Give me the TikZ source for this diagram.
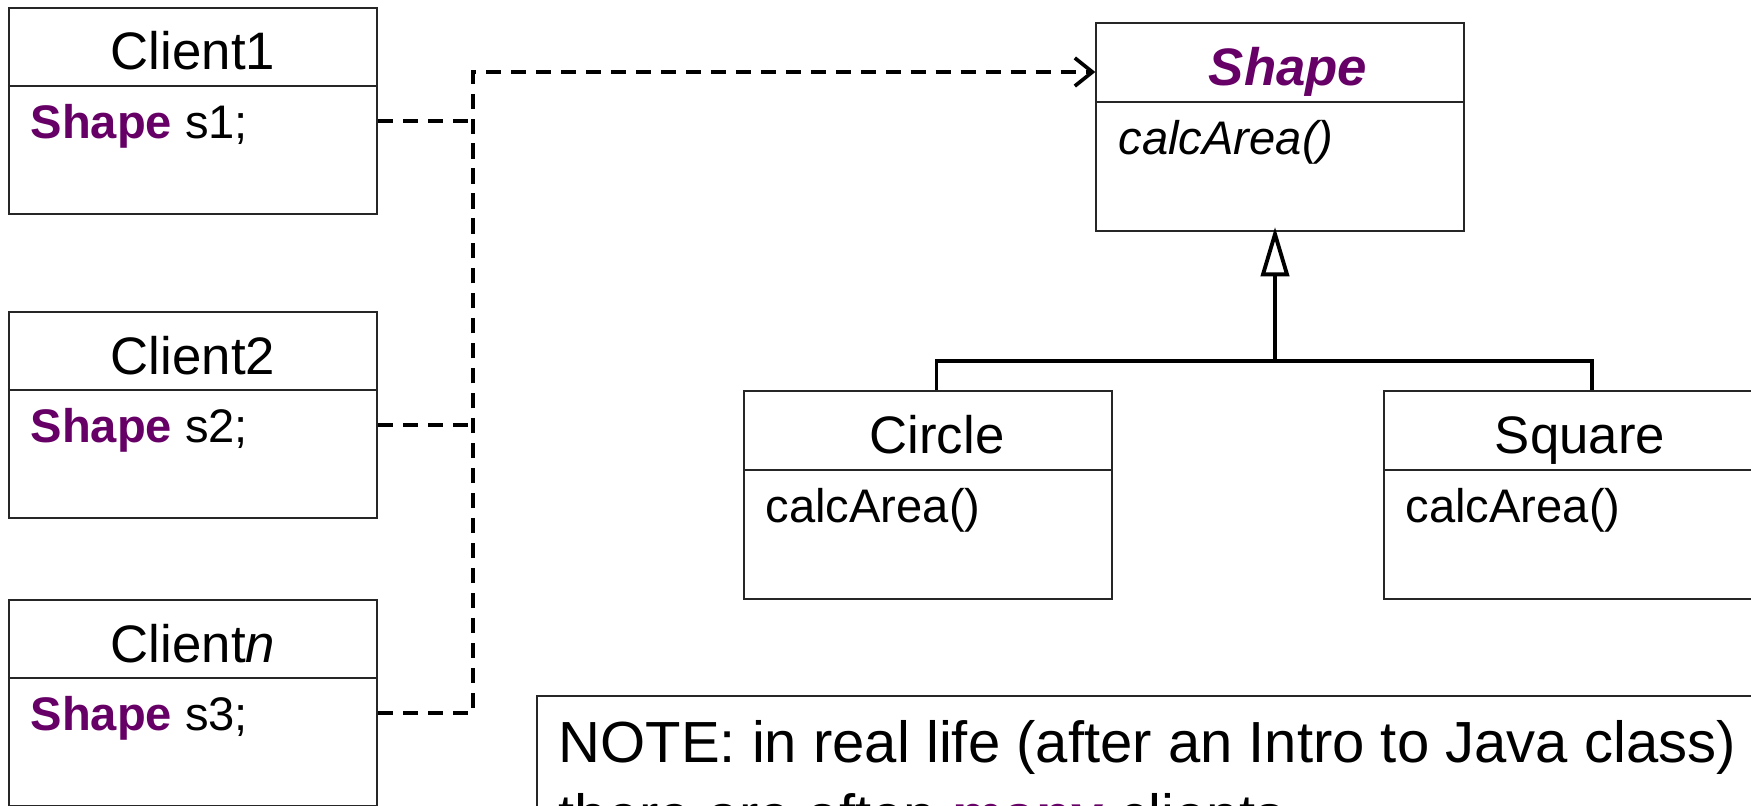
\documentclass[tikz,border=0pt]{standalone}
\usepackage{fontspec}
\setmainfont{Liberation Sans}
\usetikzlibrary{arrows.meta}
\usetikzlibrary{calc}

\definecolor{shapepurple}{RGB}{102,0,102}

\tikzset{
  classbox/.style={draw=black!85, line width=0.6pt, inner sep=0pt},
  ctitle/.style={font=\fontsize{15}{18}\selectfont, inner sep=0pt, anchor=base},
  cattr/.style={font=\fontsize{13.4}{16}\selectfont, inner sep=0pt, anchor=base west, text depth=0pt},
  notetext/.style={font=\fontsize{16.5}{20}\selectfont, inner sep=0pt, anchor=base west},
  dep/.style={line width=1.05pt, dash pattern=on 4.3pt off 2.8pt},
  gen/.style={line width=1.1pt},
}

\begin{document}
\begin{tikzpicture}[x=0.01cm, y=-0.01cm]
\useasboundingbox (0,0) rectangle (1751,806);

% the clients
\node[classbox, minimum width=3.68cm, minimum height=2.06cm] (c1) at (193,111) {};
\node[classbox, minimum width=3.68cm, minimum height=2.06cm] (c2) at (193,415) {};
\node[classbox, minimum width=3.68cm, minimum height=2.06cm] (cn) at (193,703) {};

% the shape hierarchy
\node[classbox, minimum width=3.67cm, minimum height=2.08cm] (shape) at (1280,127) {};
\node[classbox, minimum width=3.67cm, minimum height=2.08cm] (circle) at (928,495) {};
\node[classbox, minimum width=3.92cm, minimum height=2.08cm] (square) at (1580,495) {};

% name compartments
\foreach \b in {c1,c2,cn}
  \draw[classbox] ([yshift=-0.79cm]\b.north west) -- ([yshift=-0.79cm]\b.north east);
\foreach \b in {shape,circle,square}
  \draw[classbox] ([yshift=-0.80cm]\b.north west) -- ([yshift=-0.80cm]\b.north east);

\node[ctitle] (c1t) at (193,70) {Client1};
\node[ctitle] (c2t) at (193,374) {Client2};
\node[ctitle] (cnt) at (193,662) {Client\textit{n}};
\node[ctitle, text=shapepurple, font=\fontsize{15}{18}\selectfont\bfseries\itshape] (shapet) at (1288,85) {Shape};
\node[ctitle] (circlet) at (937,453) {Circle};
\node[ctitle] (squaret) at (1580,453) {Square};

\node[cattr] (c1a) at (30,138) {\textcolor{shapepurple}{\textbf{Shape}} s1;};
\node[cattr] (c2a) at (30,442) {\textcolor{shapepurple}{\textbf{Shape}} s2;};
\node[cattr] (cna) at (30,730) {\textcolor{shapepurple}{\textbf{Shape}} s3;};
\node[cattr] (shapea) at (1118,154) {\textit{calcArea()}};
\node[cattr] (circlea) at (765,522) {calcArea()};
\node[cattr] (squarea) at (1405,522) {calcArea()};

% dependencies
\coordinate (bus) at (473,72);
\draw[dep] (c1.east |- c1a) -- (c1a -| bus);
\draw[dep] (c2.east |- c2a) -- (c2a -| bus);
\draw[dep, -{Straight Barb[length=5pt,width=8pt,line width=1.05pt]}] (cn.east |- cna) -| (bus) -- (bus -| shape.west);

% inheritance
\coordinate (hub) at ($(shape.south)+(-5,129)$);
\draw[gen, shorten >=-0.05cm, -{Triangle[open,length=14pt,width=8pt,fill=white]}] (hub) -- (hub |- shape.south);
\draw[gen] ([xshift=0.085cm]circle.north) |- (hub) -| ([xshift=0.12cm]square.north);

% note
\node[classbox, anchor=north west, minimum width=13cm, minimum height=2cm] (note) at (536,695) {};
\node[notetext] (note1) at (558,762) {NOTE: in real life (after an Intro to Java class)};
\node[notetext] (note2) at (558,835) {there are often \textcolor{shapepurple}{\textbf{many}} clients};
\end{tikzpicture}
\end{document}
